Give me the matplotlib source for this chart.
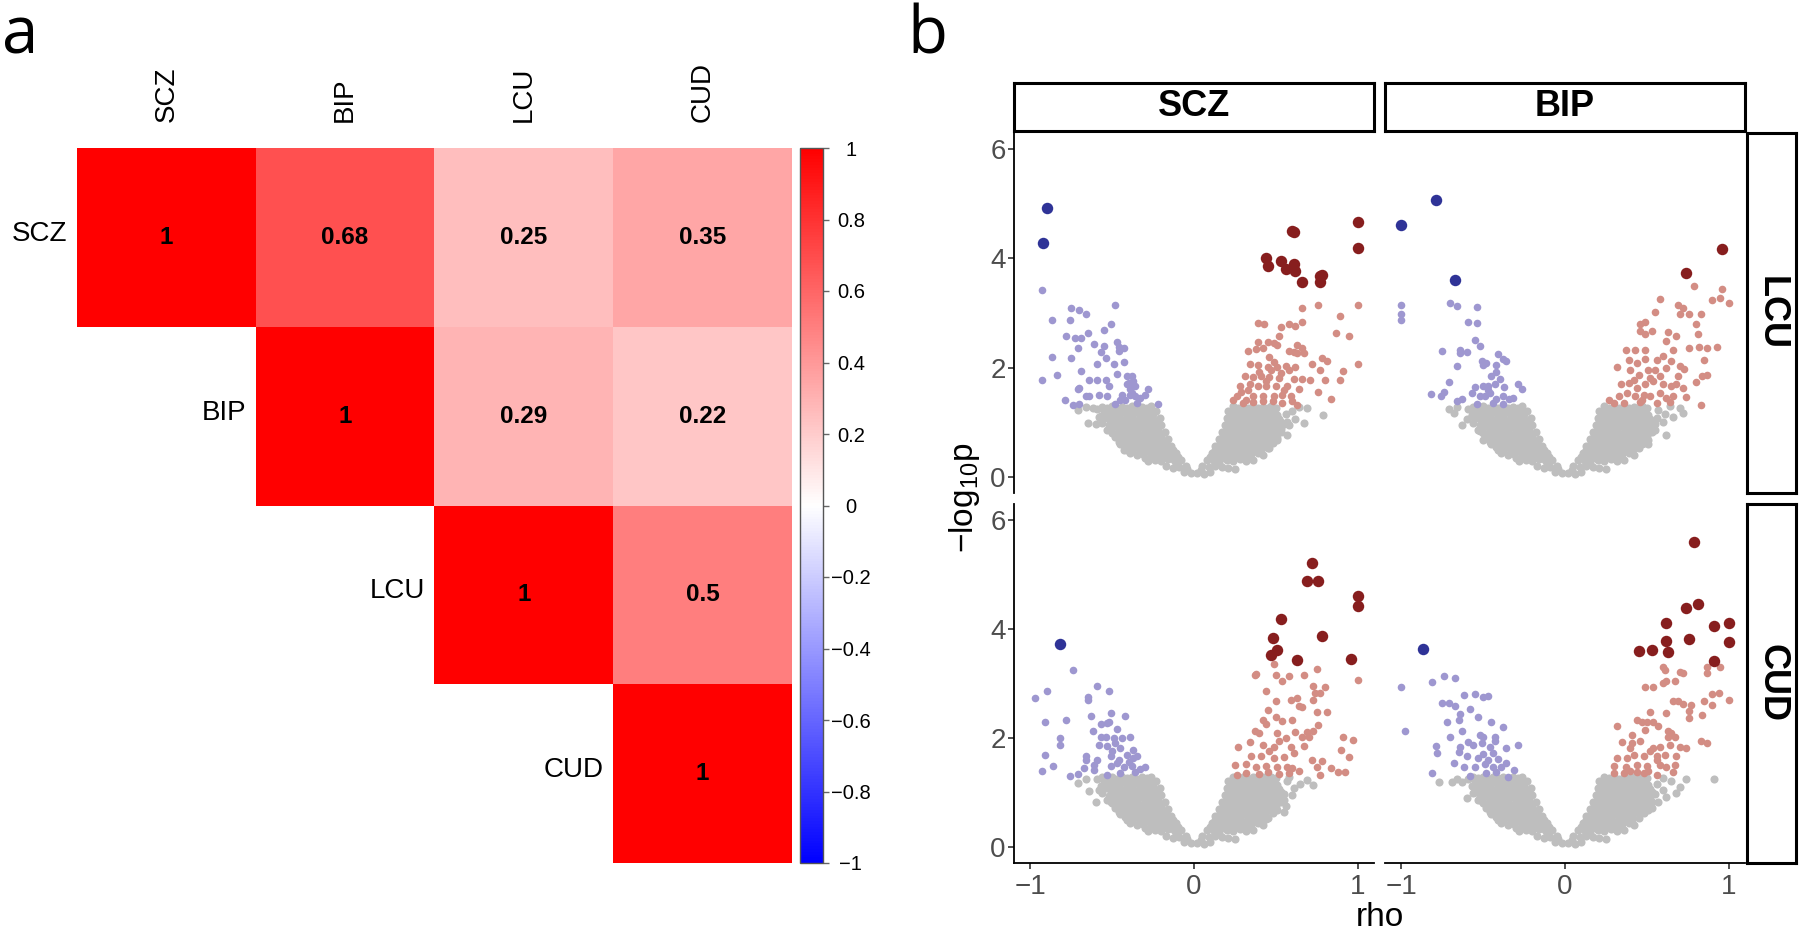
import numpy as np
import matplotlib
matplotlib.use("Agg")
import matplotlib.pyplot as plt
from matplotlib.colors import LinearSegmentedColormap

plt.rcParams['font.family'] = ['Liberation Sans', 'DejaVu Sans']
plt.rcParams['mathtext.fontset'] = 'custom'
plt.rcParams['mathtext.rm'] = 'Liberation Sans'
plt.rcParams['mathtext.it'] = 'Liberation Sans'

# ---------------- Panel a data ----------------
traits = ["SCZ", "BIP", "LCU", "CUD"]
corr = [[1.00, 0.68, 0.25, 0.35],
        [0.68, 1.00, 0.29, 0.22],
        [0.25, 0.29, 1.00, 0.50],
        [0.35, 0.22, 0.50, 1.00]]
cbar_ticks = [-1, -0.8, -0.6, -0.4, -0.2, 0, 0.2, 0.4, 0.6, 0.8, 1]
cbar_labels = ["\u22121", "\u22120.8", "\u22120.6", "\u22120.4", "\u22120.2", "0",
               "0.2", "0.4", "0.6", "0.8", "1"]

# ---------------- Panel b data ----------------
col_traits = ["SCZ", "BIP"]
row_traits = ["LCU", "CUD"]
x_ticks = [-1, 0, 1]
x_ticklabels = ["\u22121", "0", "1"]
y_ticks = [0, 2, 4, 6]

# dense non-significant core of each volcano arm (estimated)
GREY_LEFT_CORE = [
    (-0.02, 0.06), (-0.06, 0.09), (-0.04, 0.14),
    (-0.05, 0.19), (-0.09, 0.18), (-0.13, 0.16), (-0.17, 0.19), (-0.11, 0.24),
    (-0.08, 0.31), (-0.12, 0.30), (-0.16, 0.32), (-0.20, 0.28), (-0.24, 0.31), (-0.28, 0.29),
    (-0.11, 0.43), (-0.15, 0.44), (-0.19, 0.41), (-0.23, 0.42), (-0.27, 0.45), (-0.31, 0.41),
    (-0.35, 0.40), (-0.39, 0.44),
    (-0.14, 0.56), (-0.18, 0.54), (-0.22, 0.57), (-0.26, 0.55), (-0.30, 0.53), (-0.34, 0.57),
    (-0.38, 0.55), (-0.42, 0.54), (-0.45, 0.60),
    (-0.16, 0.69), (-0.20, 0.67), (-0.24, 0.70), (-0.28, 0.68), (-0.32, 0.66), (-0.36, 0.70),
    (-0.40, 0.68), (-0.44, 0.67), (-0.48, 0.72),
    (-0.18, 0.82), (-0.22, 0.80), (-0.26, 0.83), (-0.30, 0.81), (-0.34, 0.79), (-0.38, 0.83),
    (-0.42, 0.80), (-0.46, 0.83), (-0.50, 0.80), (-0.53, 0.86),
    (-0.20, 0.95), (-0.24, 0.93), (-0.28, 0.96), (-0.32, 0.94), (-0.36, 0.92), (-0.40, 0.96),
    (-0.44, 0.93), (-0.48, 0.97), (-0.52, 0.94), (-0.56, 0.98),
    (-0.21, 1.08), (-0.25, 1.06), (-0.29, 1.09), (-0.33, 1.07), (-0.37, 1.05), (-0.41, 1.09),
    (-0.45, 1.06), (-0.49, 1.10), (-0.53, 1.07), (-0.57, 1.11),
    (-0.23, 1.20), (-0.27, 1.19), (-0.31, 1.22), (-0.35, 1.20), (-0.39, 1.18), (-0.43, 1.22),
    (-0.47, 1.19), (-0.51, 1.23), (-0.55, 1.20), (-0.59, 1.24),
    (-0.26, 1.29), (-0.32, 1.28), (-0.38, 1.29), (-0.44, 1.28), (-0.50, 1.29), (-0.56, 1.28),
    # in-between points of the dense core
    (-0.10, 0.36), (-0.14, 0.37), (-0.18, 0.36), (-0.22, 0.37), (-0.26, 0.36), (-0.30, 0.35),
    (-0.13, 0.49), (-0.17, 0.50), (-0.21, 0.48), (-0.25, 0.50), (-0.29, 0.49), (-0.33, 0.48),
    (-0.37, 0.50), (-0.41, 0.49),
    (-0.18, 0.62), (-0.22, 0.63), (-0.26, 0.61), (-0.30, 0.62), (-0.34, 0.63), (-0.38, 0.61),
    (-0.42, 0.62), (-0.46, 0.64),
    (-0.20, 0.75), (-0.24, 0.76), (-0.28, 0.74), (-0.32, 0.75), (-0.36, 0.76), (-0.40, 0.74),
    (-0.44, 0.75), (-0.48, 0.77),
    (-0.22, 0.88), (-0.26, 0.89), (-0.30, 0.87), (-0.34, 0.88), (-0.38, 0.89), (-0.42, 0.87),
    (-0.46, 0.88), (-0.50, 0.89),
    (-0.23, 1.01), (-0.27, 1.02), (-0.31, 1.00), (-0.35, 1.01), (-0.39, 1.02), (-0.43, 1.00),
    (-0.47, 1.01), (-0.51, 1.02),
    (-0.25, 1.14), (-0.29, 1.13), (-0.33, 1.15), (-0.37, 1.14), (-0.41, 1.13), (-0.45, 1.15),
    (-0.49, 1.14), (-0.53, 1.13),
    (-0.29, 1.26), (-0.35, 1.25), (-0.41, 1.26), (-0.47, 1.25), (-0.53, 1.26),
]
GREY_RIGHT_CORE = [
    (0.02, 0.06), (0.06, 0.05), (0.10, 0.08), (0.04, 0.13),
    (0.05, 0.19), (0.09, 0.17), (0.13, 0.20), (0.17, 0.17), (0.21, 0.16), (0.25, 0.14), (0.15, 0.25),
    (0.08, 0.31), (0.12, 0.29), (0.16, 0.32), (0.20, 0.30), (0.24, 0.28), (0.28, 0.32), (0.32, 0.29),
    (0.36, 0.31),
    (0.11, 0.43), (0.15, 0.41), (0.19, 0.44), (0.23, 0.42), (0.27, 0.40), (0.31, 0.44), (0.35, 0.41),
    (0.39, 0.43), (0.42, 0.40),
    (0.13, 0.56), (0.17, 0.57), (0.21, 0.54), (0.25, 0.56), (0.29, 0.58), (0.33, 0.54), (0.37, 0.57),
    (0.41, 0.55), (0.45, 0.53),
    (0.15, 0.69), (0.19, 0.67), (0.23, 0.70), (0.27, 0.68), (0.31, 0.66), (0.35, 0.70), (0.39, 0.67),
    (0.43, 0.69), (0.47, 0.71), (0.51, 0.68),
    (0.17, 0.82), (0.21, 0.80), (0.25, 0.83), (0.29, 0.81), (0.33, 0.79), (0.37, 0.83), (0.41, 0.80),
    (0.45, 0.83), (0.49, 0.80), (0.53, 0.82),
    (0.19, 0.95), (0.23, 0.93), (0.27, 0.96), (0.31, 0.94), (0.35, 0.92), (0.39, 0.96), (0.43, 0.93),
    (0.47, 0.97), (0.51, 0.94), (0.55, 0.96),
    (0.20, 1.08), (0.24, 1.06), (0.28, 1.09), (0.32, 1.07), (0.36, 1.05), (0.40, 1.09), (0.44, 1.06),
    (0.48, 1.10), (0.52, 1.06),
    (0.21, 1.20), (0.25, 1.19), (0.29, 1.22), (0.33, 1.20), (0.37, 1.18), (0.41, 1.22), (0.45, 1.19),
    (0.49, 1.23),
    (0.24, 1.29), (0.30, 1.28), (0.36, 1.29), (0.42, 1.28), (0.47, 1.29),
    # in-between points of the dense core
    (0.10, 0.36), (0.14, 0.37), (0.18, 0.36), (0.22, 0.37), (0.26, 0.36), (0.30, 0.35), (0.34, 0.36),
    (0.13, 0.49), (0.17, 0.50), (0.21, 0.48), (0.25, 0.50), (0.29, 0.49), (0.33, 0.48), (0.37, 0.50),
    (0.41, 0.49),
    (0.16, 0.62), (0.20, 0.63), (0.24, 0.61), (0.28, 0.62), (0.32, 0.63), (0.36, 0.61), (0.40, 0.62),
    (0.44, 0.64), (0.48, 0.62),
    (0.18, 0.75), (0.22, 0.76), (0.26, 0.74), (0.30, 0.75), (0.34, 0.76), (0.38, 0.74), (0.42, 0.75),
    (0.46, 0.77), (0.50, 0.75),
    (0.20, 0.88), (0.24, 0.89), (0.28, 0.87), (0.32, 0.88), (0.36, 0.89), (0.40, 0.87), (0.44, 0.88),
    (0.48, 0.89), (0.52, 0.88),
    (0.21, 1.01), (0.25, 1.02), (0.29, 1.00), (0.33, 1.01), (0.37, 1.02), (0.41, 1.00), (0.45, 1.01),
    (0.49, 1.02), (0.53, 1.00),
    (0.23, 1.14), (0.27, 1.13), (0.31, 1.15), (0.35, 1.14), (0.39, 1.13), (0.43, 1.15), (0.47, 1.14),
    (0.51, 1.13),
    (0.27, 1.26), (0.33, 1.25), (0.39, 1.26), (0.45, 1.25), (0.50, 1.26),
]

# ---- SCZ x LCU ----
SCZ_LCU_grey = [(-0.71, 1.23), (-0.65, 0.98), (-0.60, 0.96), (-0.62, 1.25), (-0.43, 0.48), (-0.58, 1.10),
                (-0.66, 1.27), (0.69, 1.25), (0.79, 1.13), (0.67, 0.98), (0.62, 1.05), (0.57, 1.00),
                (0.60, 1.20), (0.56, 1.15), (0.51, 0.71), (0.57, 0.77), (0.53, 0.88), (0.46, 0.52),
                (0.58, 0.94), (0.64, 1.28)]
SCZ_LCU_light_blue = [(-0.93, 3.42), (-0.48, 3.14), (-0.75, 3.10), (-0.70, 3.05), (-0.66, 2.98), (-0.87, 2.87),
                      (-0.76, 2.87), (-0.51, 2.79), (-0.55, 2.68), (-0.65, 2.63), (-0.78, 2.57), (-0.73, 2.55),
                      (-0.69, 2.55), (-0.61, 2.44), (-0.55, 2.39), (-0.47, 2.47), (-0.46, 2.38), (-0.43, 2.35),
                      (-0.71, 2.35), (-0.57, 2.28), (-0.87, 2.19), (-0.75, 2.18), (-0.54, 2.17), (-0.46, 2.30),
                      (-0.59, 2.07), (-0.49, 2.07), (-0.43, 2.10), (-0.69, 1.93), (-0.47, 1.89), (-0.84, 1.86),
                      (-0.93, 1.78), (-0.64, 1.78), (-0.59, 1.77), (-0.54, 1.78), (-0.41, 1.84), (-0.38, 1.84),
                      (-0.40, 1.72), (-0.36, 1.66), (-0.52, 1.67), (-0.71, 1.60), (-0.70, 1.63), (-0.28, 1.61),
                      (-0.66, 1.47), (-0.64, 1.48), (-0.58, 1.50), (-0.53, 1.47), (-0.44, 1.49), (-0.39, 1.50),
                      (-0.36, 1.47), (-0.30, 1.50), (-0.79, 1.40), (-0.74, 1.32), (-0.70, 1.34), (-0.48, 1.34),
                      (-0.42, 1.40), (-0.35, 1.35), (-0.22, 1.34), (-0.38, 1.53), (-0.39, 1.60), (-0.41, 1.70),
                      (-0.37, 1.76), (-0.33, 1.45), (-0.45, 1.40)]
SCZ_LCU_dark_blue = [(-0.90, 4.92), (-0.92, 4.29)]
SCZ_LCU_light_red = [(0.66, 3.09), (0.76, 3.14), (1.00, 3.15), (0.66, 2.84), (0.89, 2.94), (0.39, 2.82),
                     (0.43, 2.79), (0.53, 2.74), (0.58, 2.80), (0.62, 2.76), (0.87, 2.63), (0.95, 2.58),
                     (0.52, 2.58), (0.39, 2.47), (0.45, 2.47), (0.49, 2.45), (0.33, 2.30), (0.38, 2.34),
                     (0.42, 2.36), (0.51, 2.41), (0.63, 2.42), (0.66, 2.36), (0.58, 2.30), (0.61, 2.28),
                     (0.63, 2.27), (0.67, 2.27), (0.78, 2.18), (0.81, 2.12), (0.46, 2.19), (0.49, 2.10),
                     (0.34, 2.07), (0.39, 2.04), (0.45, 2.01), (0.51, 2.01), (0.56, 2.02), (0.62, 2.01),
                     (0.72, 2.06), (0.77, 1.96), (1.00, 2.07), (0.91, 1.93), (0.31, 1.84), (0.36, 1.83),
                     (0.41, 1.84), (0.46, 1.83), (0.52, 1.81), (0.61, 1.79), (0.66, 1.79), (0.71, 1.77),
                     (0.80, 1.78), (0.89, 1.78), (0.28, 1.67), (0.34, 1.69), (0.39, 1.67), (0.44, 1.66),
                     (0.50, 1.66), (0.57, 1.66), (0.64, 1.60), (0.29, 1.55), (0.36, 1.47), (0.42, 1.47),
                     (0.49, 1.47), (0.54, 1.49), (0.59, 1.47), (0.76, 1.55), (0.24, 1.40), (0.30, 1.35),
                     (0.36, 1.36), (0.42, 1.38), (0.63, 1.31), (0.84, 1.42), (0.26, 1.47), (0.32, 1.41),
                     (0.47, 1.95), (0.53, 1.90), (0.44, 1.75), (0.55, 1.58), (0.48, 1.38), (0.54, 1.35),
                     (0.60, 1.38), (0.33, 1.58), (0.40, 1.92), (0.58, 1.95)]
SCZ_LCU_dark_red = [(1.00, 4.67), (1.00, 4.19), (0.61, 4.48), (0.60, 4.51), (0.44, 4.00), (0.45, 3.87),
                    (0.53, 3.96), (0.56, 3.80), (0.61, 3.90), (0.62, 3.77), (0.66, 3.56), (0.77, 3.68),
                    (0.78, 3.70), (0.77, 3.56)]

# ---- BIP x LCU ----
BIP_LCU_grey = [(-0.71, 1.24), (-0.68, 1.17), (-0.63, 0.95), (-0.57, 1.13), (-0.52, 0.83), (-0.50, 0.67),
                (-0.66, 1.27), (-0.60, 1.05), (0.72, 1.17), (0.64, 1.29), (0.62, 0.77), (0.51, 0.60),
                (0.60, 1.00), (0.66, 1.10), (0.55, 0.85), (0.70, 1.25), (0.57, 1.22), (0.61, 1.15),
                (0.56, 1.08), (0.42, 0.52), (0.47, 0.60)]
BIP_LCU_light_blue = [(-1.00, 3.15), (-1.00, 2.98), (-1.00, 2.88), (-0.70, 3.18), (-0.66, 3.13), (-0.54, 3.11),
                      (-0.59, 2.84), (-0.54, 2.81), (-0.55, 2.50), (-0.52, 2.40), (-0.75, 2.30), (-0.64, 2.33),
                      (-0.64, 2.26), (-0.60, 2.29), (-0.41, 2.24), (-0.38, 2.16), (-0.36, 2.12), (-0.66, 2.02),
                      (-0.51, 2.12), (-0.48, 2.09), (-0.50, 2.04), (-0.42, 2.04), (-0.42, 1.91), (-0.40, 1.79),
                      (-0.71, 1.74), (-0.55, 1.64), (-0.50, 1.66), (-0.47, 1.67), (-0.43, 1.69), (-0.29, 1.70),
                      (-0.26, 1.60), (-0.37, 1.64), (-0.82, 1.52), (-0.76, 1.48), (-0.74, 1.55), (-0.57, 1.53),
                      (-0.52, 1.47), (-0.46, 1.53), (-0.42, 1.43), (-0.38, 1.47), (-0.34, 1.42), (-0.32, 1.44),
                      (-0.66, 1.38), (-0.63, 1.42), (-0.54, 1.34), (-0.44, 1.35), (-0.38, 1.34), (-0.49, 1.47),
                      (-0.45, 1.85), (-0.47, 1.58)]
BIP_LCU_dark_blue = [(-0.79, 5.08), (-1.00, 4.61), (-0.67, 3.61)]
BIP_LCU_light_red = [(0.79, 3.50), (0.96, 3.44), (0.90, 3.24), (0.95, 3.28), (1.00, 3.19), (0.58, 3.25),
                     (0.69, 3.15), (0.72, 3.09), (0.70, 2.98), (0.76, 2.98), (0.83, 2.99), (0.55, 3.02),
                     (0.46, 2.79), (0.49, 2.84), (0.53, 2.67), (0.49, 2.62), (0.46, 2.67), (0.63, 2.66),
                     (0.68, 2.58), (0.80, 2.80), (0.81, 2.61), (0.62, 2.48), (0.66, 2.33), (0.76, 2.36),
                     (0.82, 2.38), (0.87, 2.35), (0.93, 2.37), (0.85, 2.13), (0.37, 2.32), (0.43, 2.32),
                     (0.49, 2.33), (0.39, 2.13), (0.44, 2.09), (0.49, 2.15), (0.56, 2.13), (0.60, 2.22),
                     (0.65, 2.12), (0.70, 2.02), (0.73, 1.98), (0.32, 2.01), (0.40, 1.96), (0.45, 1.87),
                     (0.51, 1.95), (0.55, 1.96), (0.62, 1.99), (0.69, 1.84), (0.80, 1.74), (0.84, 1.84),
                     (0.87, 1.87), (0.34, 1.70), (0.39, 1.72), (0.44, 1.63), (0.49, 1.69), (0.54, 1.75),
                     (0.60, 1.69), (0.65, 1.66), (0.72, 1.63), (0.27, 1.40), (0.33, 1.47), (0.38, 1.53),
                     (0.43, 1.47), (0.48, 1.50), (0.52, 1.47), (0.58, 1.53), (0.62, 1.44), (0.66, 1.47),
                     (0.74, 1.46), (0.83, 1.32), (0.30, 1.35), (0.36, 1.35), (0.46, 1.36), (0.56, 1.35),
                     (0.64, 1.36), (0.52, 1.80), (0.58, 1.85), (0.42, 1.78), (0.47, 1.40), (0.68, 1.70)]
BIP_LCU_dark_red = [(0.96, 4.18), (0.74, 3.74)]

# ---- SCZ x CUD ----
SCZ_CUD_grey = [(-0.71, 1.17), (-0.64, 1.02), (-0.60, 0.83), (-0.51, 0.83), (-0.66, 1.25), (-0.58, 1.05),
                (0.57, 1.20), (0.69, 1.23), (0.73, 1.13), (0.61, 1.07), (0.55, 0.86), (0.55, 0.64),
                (0.60, 0.95), (0.65, 1.15), (0.58, 1.28), (0.56, 0.75), (0.38, 0.46), (0.44, 0.50)]
SCZ_CUD_light_blue = [(-0.74, 3.25), (-0.59, 2.96), (-0.52, 2.87), (-0.90, 2.87), (-0.97, 2.74), (-0.65, 2.76),
                      (-0.65, 2.70), (-0.51, 2.45), (-0.42, 2.40), (-0.63, 2.40), (-0.91, 2.29), (-0.78, 2.33),
                      (-0.57, 2.26), (-0.53, 2.28), (-0.52, 2.30), (-0.62, 2.13), (-0.47, 2.16), (-0.57, 2.02),
                      (-0.54, 2.02), (-0.49, 1.99), (-0.44, 1.99), (-0.39, 2.01), (-0.82, 1.99), (-0.82, 1.87),
                      (-0.58, 1.87), (-0.53, 1.85), (-0.48, 1.90), (-0.45, 1.81), (-0.37, 1.78), (-0.91, 1.69),
                      (-0.66, 1.66), (-0.66, 1.60), (-0.59, 1.60), (-0.51, 1.66), (-0.41, 1.69), (-0.37, 1.63),
                      (-0.35, 1.66), (-0.86, 1.49), (-0.61, 1.50), (-0.51, 1.49), (-0.47, 1.53), (-0.43, 1.47),
                      (-0.38, 1.48), (-0.30, 1.47), (-0.93, 1.40), (-0.67, 1.44), (-0.61, 1.41), (-0.53, 1.32),
                      (-0.76, 1.30), (-0.71, 1.34), (-0.45, 1.35), (-0.36, 1.38), (-0.33, 1.42), (-0.46, 1.60),
                      (-0.40, 1.55), (-0.50, 1.75)]
SCZ_CUD_dark_blue = [(-0.82, 3.72)]
SCZ_CUD_light_red = [(0.49, 3.36), (0.75, 3.27), (0.37, 3.15), (0.38, 3.18), (0.50, 3.15), (0.54, 3.04),
                     (0.58, 3.13), (0.67, 3.15), (1.00, 3.07), (0.73, 2.96), (0.80, 2.93), (0.44, 2.86),
                     (0.63, 2.74), (0.74, 2.82), (0.77, 2.83), (0.73, 2.70), (0.59, 2.69), (0.50, 2.67),
                     (0.64, 2.59), (0.66, 2.56), (0.45, 2.52), (0.75, 2.48), (0.81, 2.47), (0.50, 2.39),
                     (0.54, 2.31), (0.60, 2.33), (0.42, 2.33), (0.44, 2.26), (0.76, 2.23), (0.37, 2.12),
                     (0.40, 2.09), (0.51, 2.09), (0.56, 1.99), (0.62, 2.10), (0.69, 2.10), (0.70, 2.01),
                     (0.73, 2.12), (0.66, 2.01), (0.91, 2.01), (0.97, 1.96), (0.27, 1.84), (0.34, 1.93),
                     (0.42, 1.87), (0.49, 1.83), (0.59, 1.84), (0.67, 1.85), (0.61, 1.72), (0.90, 1.78),
                     (0.95, 1.64), (0.35, 1.66), (0.41, 1.66), (0.49, 1.63), (0.55, 1.64), (0.72, 1.60),
                     (0.78, 1.58), (0.25, 1.50), (0.32, 1.52), (0.38, 1.47), (0.44, 1.49), (0.51, 1.47),
                     (0.57, 1.47), (0.60, 1.44), (0.75, 1.47), (0.84, 1.44), (0.88, 1.38), (0.92, 1.38),
                     (0.26, 1.32), (0.32, 1.35), (0.40, 1.34), (0.77, 1.32), (0.46, 1.75), (0.52, 1.95),
                     (0.45, 1.38), (0.52, 1.33), (0.58, 1.36), (0.64, 1.40)]
SCZ_CUD_dark_red = [(0.72, 5.21), (0.69, 4.88), (0.76, 4.88), (1.00, 4.61), (1.00, 4.42), (0.53, 4.19),
                    (0.78, 3.87), (0.48, 3.83), (0.51, 3.62), (0.47, 3.53), (0.63, 3.44), (0.96, 3.45)]

# ---- BIP x CUD ----
BIP_CUD_grey = [(-0.77, 1.18), (-0.69, 1.18), (-0.63, 1.18), (-0.60, 0.90), (-0.52, 0.86), (-0.46, 0.67),
                (-0.55, 1.00), (-0.66, 1.25), (0.65, 1.20), (0.74, 1.24), (0.91, 1.24), (0.68, 0.98),
                (0.57, 0.83), (0.48, 0.64), (0.60, 1.05), (0.62, 0.92), (0.56, 1.15), (0.60, 1.27),
                (0.53, 0.72), (0.70, 1.10)]
BIP_CUD_light_blue = [(-0.74, 3.14), (-0.67, 3.10), (-1.00, 2.94), (-0.81, 3.02), (-0.62, 2.78), (-0.55, 2.81),
                      (-0.50, 2.75), (-0.47, 2.77), (-0.75, 2.64), (-0.71, 2.65), (-0.67, 2.59), (-0.58, 2.53),
                      (-0.64, 2.44), (-0.53, 2.39), (-0.65, 2.32), (-0.72, 2.30), (-0.45, 2.30), (-0.38, 2.20),
                      (-0.98, 2.13), (-0.63, 2.13), (-0.70, 2.01), (-0.52, 2.06), (-0.50, 2.01), (-0.43, 2.01),
                      (-0.43, 1.94), (-0.79, 1.86), (-0.78, 1.72), (-0.64, 1.84), (-0.59, 1.93), (-0.56, 1.87),
                      (-0.51, 1.91), (-0.46, 1.84), (-0.36, 1.81), (-0.29, 1.87), (-0.65, 1.74), (-0.60, 1.66),
                      (-0.53, 1.63), (-0.47, 1.60), (-0.41, 1.61), (-0.36, 1.53), (-0.68, 1.53), (-0.62, 1.47),
                      (-0.55, 1.47), (-0.49, 1.52), (-0.44, 1.47), (-0.39, 1.47), (-0.81, 1.35), (-0.58, 1.30),
                      (-0.48, 1.35), (-0.42, 1.38), (-0.31, 1.41), (-0.35, 1.29), (-0.50, 1.70), (-0.44, 1.72)]
BIP_CUD_dark_blue = [(-0.87, 3.64)]
BIP_CUD_light_red = [(0.60, 3.30), (0.61, 3.24), (0.70, 3.22), (0.72, 3.20), (0.87, 3.31), (0.87, 3.20),
                     (0.95, 3.31), (0.67, 3.05), (0.60, 3.01), (0.62, 3.04), (0.49, 2.93), (0.54, 2.93),
                     (0.90, 2.80), (0.94, 2.83), (1.00, 2.70), (0.66, 2.67), (0.69, 2.67), (0.72, 2.63),
                     (0.77, 2.61), (0.85, 2.67), (0.90, 2.60), (0.76, 2.50), (0.52, 2.47), (0.62, 2.45),
                     (0.44, 2.33), (0.47, 2.30), (0.50, 2.29), (0.54, 2.29), (0.57, 2.21), (0.76, 2.36),
                     (0.84, 2.42), (0.32, 2.21), (0.49, 2.15), (0.63, 2.13), (0.65, 2.09), (0.41, 2.06),
                     (0.63, 2.01), (0.67, 2.02), (0.83, 1.95), (0.87, 1.90), (0.35, 1.93), (0.41, 1.90),
                     (0.54, 1.81), (0.58, 1.83), (0.64, 1.87), (0.70, 1.84), (0.74, 1.81), (0.40, 1.81),
                     (0.42, 1.69), (0.48, 1.66), (0.56, 1.66), (0.61, 1.69), (0.68, 1.66), (0.32, 1.63),
                     (0.38, 1.63), (0.56, 1.60), (0.67, 1.50), (0.30, 1.49), (0.37, 1.47), (0.44, 1.50),
                     (0.50, 1.49), (0.58, 1.50), (0.62, 1.47), (0.30, 1.35), (0.36, 1.35), (0.44, 1.38),
                     (0.48, 1.36), (0.56, 1.32), (0.46, 1.95), (0.52, 1.75), (0.40, 1.40), (0.51, 1.40),
                     (0.66, 1.38)]
BIP_CUD_dark_red = [(0.79, 5.60), (0.81, 4.47), (0.74, 4.39), (0.62, 4.11), (0.91, 4.06), (1.00, 4.12),
                    (1.00, 3.76), (0.62, 3.79), (0.76, 3.82), (0.45, 3.60), (0.53, 3.61), (0.63, 3.57),
                    (0.91, 3.42)]

# ---------------- styling ----------------
W, H = 1800, 934
C_GREY = "#BEBEBE"
C_LBLUE = "#9E97D0"
C_DBLUE = "#2F3397"
C_LRED = "#D38D84"
C_DRED = "#871E1E"
TICK_GREY = "#4D4D4D"

fig = plt.figure(figsize=(W / 100, H / 100), dpi=100)


def fax(x0, y0, x1, y1):
    """axes from pixel box (top-left origin)"""
    return fig.add_axes([x0 / W, 1 - y1 / H, (x1 - x0) / W, (y1 - y0) / H])


# ================= Panel a =================
cmap = LinearSegmentedColormap.from_list("bwr_lin", ["#0000FF", "#FFFFFF", "#FF0000"], N=256)
M = np.array(corr, dtype=float)
n = len(traits)
mask = np.tril(np.ones_like(M, dtype=bool), k=-1)
Mm = np.ma.array(M, mask=mask)

axh = fax(77, 148, 792, 863)
mesh = axh.pcolormesh(np.arange(n + 1), np.arange(n + 1), Mm, cmap=cmap, vmin=-1, vmax=1)
axh.set_xlim(0, n)
axh.set_ylim(n, 0)
axh.axis("off")
for i in range(n):
    for j in range(i, n):
        axh.text(j + 0.5, i + 0.5, f"{M[i, j]:g}", ha="center", va="center",
                 fontsize=17.5, fontweight="bold", color="black")
    axh.text(i - 0.055, i + 0.48, traits[i], ha="right", va="center", fontsize=20)
    axh.text(i + 0.5, -0.145, traits[i], ha="center", va="bottom", rotation=90, fontsize=20)

cax = fax(800, 148, 823, 863)
cb = fig.colorbar(mesh, cax=cax, ticks=cbar_ticks)
cb.ax.set_yticklabels(cbar_labels)
cb.outline.set_linewidth(1.0)
cb.outline.set_edgecolor("#555555")
cax.tick_params(axis="y", length=4, width=1, color="#666666", labelsize=14.5, pad=16)
for t in cax.get_yticklabels():
    t.set_ha("center")

fig.text(2 / W, 1 - 53 / H, "a", fontsize=47, family=["Open Sans", "DejaVu Sans"],
         ha="left", va="baseline")
fig.text(907 / W, 1 - 53 / H, "b", fontsize=47, family=["Open Sans", "DejaVu Sans"],
         ha="left", va="baseline")

# ================= Panel b =================
panels = {
    ("SCZ", "LCU"): (SCZ_LCU_grey, SCZ_LCU_light_blue, SCZ_LCU_light_red, SCZ_LCU_dark_blue, SCZ_LCU_dark_red),
    ("BIP", "LCU"): (BIP_LCU_grey, BIP_LCU_light_blue, BIP_LCU_light_red, BIP_LCU_dark_blue, BIP_LCU_dark_red),
    ("SCZ", "CUD"): (SCZ_CUD_grey, SCZ_CUD_light_blue, SCZ_CUD_light_red, SCZ_CUD_dark_blue, SCZ_CUD_dark_red),
    ("BIP", "CUD"): (BIP_CUD_grey, BIP_CUD_light_blue, BIP_CUD_light_red, BIP_CUD_dark_blue, BIP_CUD_dark_red),
}
col_px = [(1014, 1374), (1385, 1745)]
row_px = [(133, 493), (504, 863)]


def xy(pts):
    a = np.array(pts, dtype=float)
    return a[:, 0], a[:, 1]


for r, rt in enumerate(row_traits):
    for c, ct in enumerate(col_traits):
        x0, x1 = col_px[c]
        y0, y1 = row_px[r]
        ax = fax(x0, y0, x1, y1)
        grey, lb, lr, db, dr = panels[(ct, rt)]
        gx, gy = xy(GREY_LEFT_CORE + GREY_RIGHT_CORE + grey)
        ax.scatter(gx, gy, s=34, c=C_GREY, linewidths=0, zorder=1)
        for pts, col in ((lb, C_LBLUE), (lr, C_LRED)):
            px, py = xy(pts)
            ax.scatter(px, py, s=30, c=col, linewidths=0, zorder=2)
        for pts, col in ((db, C_DBLUE), (dr, C_DRED)):
            px, py = xy(pts)
            ax.scatter(px, py, s=68, c=col, linewidths=0, zorder=3)
        ax.set_xlim(-1.1, 1.1)
        ax.set_ylim(-0.3, 6.3)
        ax.set_xticks(x_ticks)
        ax.set_xticklabels(x_ticklabels)
        ax.set_yticks(y_ticks)
        for sp in ax.spines.values():
            sp.set_visible(False)
        ax.patch.set_alpha(0)
        ax.tick_params(axis="both", length=4, width=1.2, color="#333333",
                       labelsize=20, labelcolor=TICK_GREY)
        ax.tick_params(axis="y", pad=2)
        ax.tick_params(axis="x", pad=4)
        if c == 0:
            ax.spines["left"].set_visible(True)
            ax.spines["left"].set_linewidth(1.3)
        else:
            ax.tick_params(axis="y", left=False, labelleft=False)
        if r == 1:
            ax.spines["bottom"].set_visible(True)
            ax.spines["bottom"].set_linewidth(1.3)
        else:
            ax.tick_params(axis="x", bottom=False, labelbottom=False)

# strips
for c, ct in enumerate(col_traits):
    x0, x1 = col_px[c]
    sa = fax(x0, 83, x1, 131)
    sa.set_xticks([]); sa.set_yticks([])
    for sp in sa.spines.values():
        sp.set_linewidth(2.2)
        sp.set_color("black")
    sa.text(0.5, 0.5, ct, ha="center", va="center", fontsize=26, fontweight="bold",
            transform=sa.transAxes)
for r, rt in enumerate(row_traits):
    y0, y1 = row_px[r]
    sa = fax(1747, y0, 1796, y1)
    sa.set_xticks([]); sa.set_yticks([])
    for sp in sa.spines.values():
        sp.set_linewidth(2.2)
        sp.set_color("black")
    sa.text(0.5, 0.5, rt, ha="center", va="center", fontsize=26, fontweight="bold",
            rotation=-90, transform=sa.transAxes)

fig.text(965 / W, 1 - 498 / H, r"$\mathregular{-log_{10}p}$", rotation=90,
         ha="center", va="center", fontsize=24)
fig.text(1380 / W, 1 - 918 / H, "rho", ha="center", va="center", fontsize=24)

fig.savefig("out.png", dpi=100)
